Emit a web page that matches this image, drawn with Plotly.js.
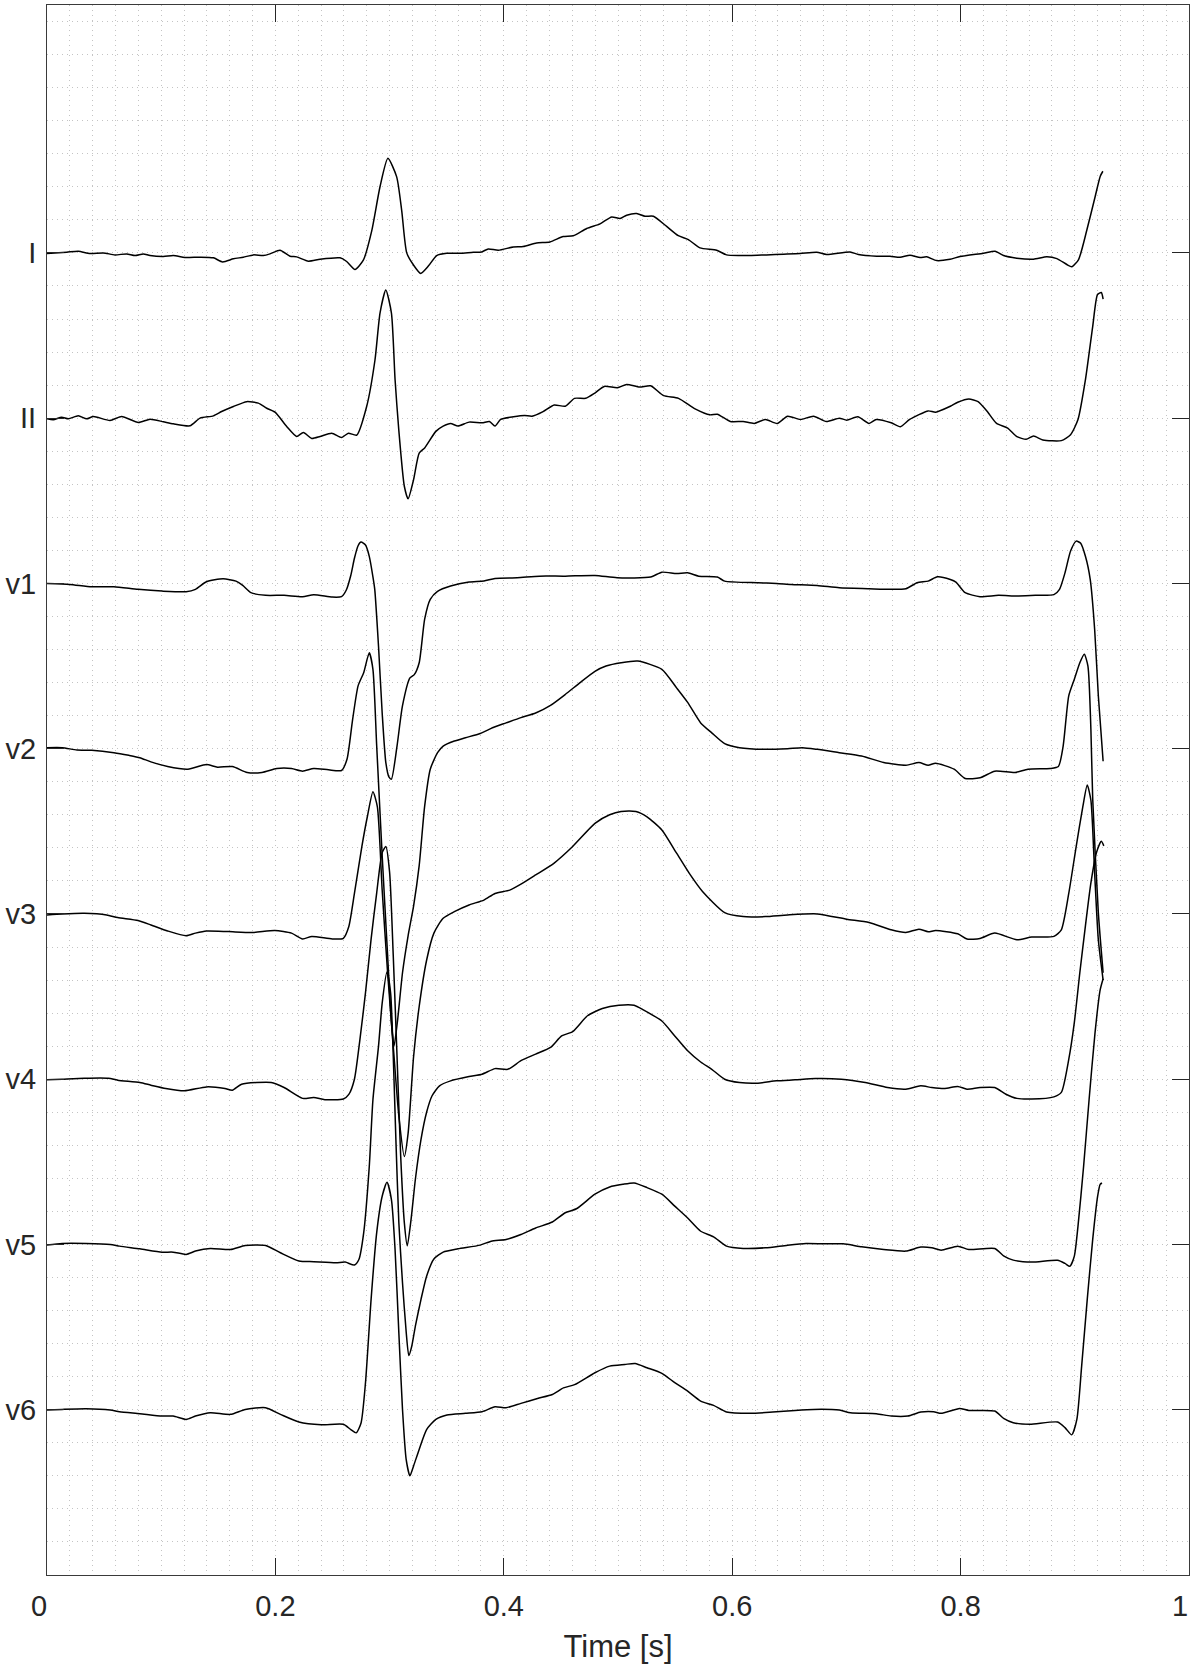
<!DOCTYPE html>
<html>
<head>
<meta charset="utf-8">
<script src="https://cdn.plot.ly/plotly-3.0.1.min.js"></script>
<style>
  html, body { margin: 0; padding: 0; background: #ffffff; }
  #chart { width: 1190px; height: 1670px; }
</style>
</head>
<body>
<div id="chart"></div>
<script>
// ---- data: [time (s), amplitude (mV)] ----
const leadNames = ["I", "II", "v1", "v2", "v3", "v4", "v5", "v6"];
const leadOffsets = [17.5, 15, 12.5, 10, 7.5, 5, 2.5, 0];

const leadI = [[0,-0.01],[0.0172,0.01],[0.0274,0.025],[0.0377,-0.01],[0.0493,0],[0.0595,-0.03],[0.0698,-0.015],[0.0771,-0.04],[0.0844,-0.015],[0.0902,-0.04],[0.1019,-0.055],[0.1106,-0.04],[0.1208,-0.07],[0.134,-0.065],[0.1457,-0.075],[0.1538,-0.136],[0.1632,-0.09],[0.1719,-0.065],[0.1807,-0.03],[0.1894,-0.04],[0.1953,-0.015],[0.204,0.04],[0.2128,-0.05],[0.2186,-0.06],[0.2289,-0.126],[0.2391,-0.096],[0.2566,-0.075],[0.2624,-0.13],[0.2697,-0.25],[0.277,-0.11],[0.2843,0.33],[0.2916,1.0],[0.2985,1.43],[0.3062,1.15],[0.3106,0.64],[0.315,0],[0.3208,-0.18],[0.3272,-0.31],[0.3339,-0.20],[0.3412,-0.04],[0.35,-0.005],[0.3616,-0.005],[0.3733,0.01],[0.3806,0.015],[0.3864,0.06],[0.3952,0.04],[0.4083,0.09],[0.417,0.096],[0.4287,0.15],[0.4404,0.166],[0.452,0.247],[0.4608,0.26],[0.4726,0.37],[0.4843,0.44],[0.4945,0.544],[0.5018,0.52],[0.5076,0.57],[0.5163,0.595],[0.5236,0.554],[0.531,0.554],[0.5426,0.40],[0.5528,0.26],[0.5616,0.20],[0.5718,0.076],[0.5864,0.04],[0.595,-0.03],[0.6068,-0.04],[0.6155,-0.04],[0.63,-0.03],[0.645,-0.02],[0.6594,-0.01],[0.674,0.01],[0.6827,-0.025],[0.7032,0.015],[0.7105,-0.025],[0.7265,-0.05],[0.7382,-0.05],[0.747,-0.065],[0.7557,-0.035],[0.7645,-0.07],[0.7703,-0.06],[0.7791,-0.116],[0.7908,-0.096],[0.7995,-0.055],[0.82,-0.005],[0.8302,0.025],[0.8376,-0.04],[0.8492,-0.08],[0.8638,-0.096],[0.8755,-0.06],[0.8843,-0.086],[0.893,-0.176],[0.8974,-0.21],[0.9033,-0.10],[0.9106,0.35],[0.9179,0.857],[0.9223,1.16],[0.9246,1.235]];

const leadII = [[0,-0.01],[0.0055,-0.025],[0.0128,0.015],[0.0187,-0.01],[0.0274,0.035],[0.0347,-0.01],[0.0406,0.025],[0.0552,-0.035],[0.0654,0.025],[0.08,-0.066],[0.0902,-0.015],[0.1019,-0.055],[0.1106,-0.086],[0.1252,-0.116],[0.134,0],[0.1457,0.035],[0.1529,0.10],[0.1632,0.176],[0.1748,0.25],[0.185,0.227],[0.1924,0.15],[0.1997,0.09],[0.2099,-0.126],[0.2186,-0.277],[0.2245,-0.217],[0.2318,-0.307],[0.2391,-0.277],[0.2493,-0.227],[0.258,-0.292],[0.2639,-0.227],[0.2712,-0.257],[0.2799,0.176],[0.2872,0.88],[0.2916,1.59],[0.2967,1.94],[0.3016,1.59],[0.3048,0.58],[0.308,-0.17],[0.3129,-1.03],[0.3162,-1.22],[0.321,-0.93],[0.3259,-0.53],[0.3307,-0.45],[0.3405,-0.20],[0.3469,-0.12],[0.3534,-0.08],[0.3599,-0.12],[0.3696,-0.06],[0.381,-0.07],[0.3874,-0.05],[0.3923,-0.12],[0.3972,-0.02],[0.4085,0.02],[0.4182,0.04],[0.4247,0.03],[0.4344,0.10],[0.4441,0.20],[0.4538,0.18],[0.4619,0.30],[0.4717,0.30],[0.4797,0.38],[0.4879,0.48],[0.4995,0.46],[0.5076,0.51],[0.5189,0.47],[0.5286,0.49],[0.54,0.34],[0.553,0.30],[0.5675,0.14],[0.5805,0.05],[0.587,0.06],[0.5983,-0.05],[0.6096,-0.05],[0.6193,-0.08],[0.629,-0.02],[0.6394,-0.08],[0.6485,0.03],[0.6598,-0.02],[0.6712,0.03],[0.6825,-0.05],[0.6938,0],[0.7003,-0.03],[0.71,0.02],[0.7198,-0.08],[0.7262,-0.02],[0.7392,-0.07],[0.7473,-0.13],[0.7554,-0.02],[0.7716,0.11],[0.7781,0.09],[0.791,0.18],[0.7975,0.24],[0.8072,0.29],[0.8153,0.25],[0.8234,0.10],[0.8315,-0.08],[0.8412,-0.15],[0.8493,-0.28],[0.8574,-0.32],[0.8639,-0.27],[0.872,-0.33],[0.8882,-0.34],[0.8963,-0.25],[0.9028,-0.02],[0.9093,0.58],[0.9157,1.39],[0.9199,1.87],[0.9232,1.90],[0.9248,1.80]];

const leadV1 = [[0,0],[0.0198,-0.015],[0.0392,-0.05],[0.0586,-0.05],[0.0797,-0.09],[0.1007,-0.116],[0.1218,-0.126],[0.13,-0.09],[0.1396,0.025],[0.1542,0.07],[0.1655,0.035],[0.1714,-0.03],[0.1785,-0.14],[0.1914,-0.18],[0.2076,-0.18],[0.2238,-0.20],[0.2336,-0.17],[0.2498,-0.207],[0.2579,-0.20],[0.2621,-0.10],[0.266,0.12],[0.2692,0.38],[0.2724,0.57],[0.275,0.625],[0.2789,0.58],[0.2822,0.41],[0.2854,0.10],[0.287,-0.09],[0.2903,-0.95],[0.2935,-1.96],[0.2967,-2.71],[0.2995,-2.93],[0.3016,-2.96],[0.3065,-2.46],[0.3113,-1.85],[0.3178,-1.43],[0.3216,-1.38],[0.3259,-1.20],[0.3307,-0.54],[0.3356,-0.24],[0.342,-0.12],[0.3534,-0.04],[0.3696,0.02],[0.3826,0.035],[0.3923,0.076],[0.4117,0.086],[0.4312,0.11],[0.4538,0.11],[0.4798,0.12],[0.4992,0.086],[0.5286,0.096],[0.5384,0.17],[0.5513,0.15],[0.561,0.16],[0.5707,0.11],[0.587,0.096],[0.5934,0.035],[0.6226,0.01],[0.6388,0],[0.6517,-0.015],[0.6744,-0.03],[0.6938,-0.066],[0.7198,-0.08],[0.7392,-0.09],[0.7521,-0.08],[0.7619,0.01],[0.7716,0.035],[0.7797,0.10],[0.791,0.06],[0.7959,0.02],[0.804,-0.14],[0.817,-0.20],[0.8331,-0.18],[0.8493,-0.19],[0.8655,-0.18],[0.8817,-0.17],[0.8866,-0.09],[0.8914,0.16],[0.8963,0.49],[0.9012,0.64],[0.905,0.61],[0.9093,0.41],[0.9135,0.06],[0.9174,-0.70],[0.9206,-1.70],[0.9248,-2.69]];

const leadV2 = [[0,0.015],[0.0133,0.015],[0.0262,-0.02],[0.0392,-0.025],[0.0586,-0.06],[0.0716,-0.10],[0.0813,-0.136],[0.091,-0.20],[0.1056,-0.27],[0.1234,-0.31],[0.1396,-0.24],[0.1493,-0.28],[0.1623,-0.27],[0.1753,-0.36],[0.1882,-0.36],[0.2012,-0.30],[0.2141,-0.30],[0.2238,-0.34],[0.2336,-0.30],[0.2465,-0.32],[0.2579,-0.33],[0.2627,-0.16],[0.2676,0.44],[0.2724,0.95],[0.2773,1.15],[0.2822,1.45],[0.2854,1.20],[0.2887,0.04],[0.2935,-1.62],[0.2983,-3.14],[0.3016,-4.14],[0.3039,-4.50],[0.3071,-4.09],[0.3113,-3.39],[0.3162,-2.83],[0.321,-2.38],[0.3259,-1.77],[0.3307,-0.87],[0.3356,-0.31],[0.342,-0.06],[0.3469,0.04],[0.3567,0.116],[0.3664,0.166],[0.3793,0.23],[0.3907,0.32],[0.402,0.39],[0.415,0.47],[0.4279,0.54],[0.4409,0.655],[0.4538,0.82],[0.4668,1.0],[0.4798,1.17],[0.4895,1.25],[0.5027,1.30],[0.5173,1.325],[0.5384,1.20],[0.5513,0.92],[0.561,0.70],[0.5724,0.39],[0.5821,0.24],[0.5934,0.076],[0.6064,0.015],[0.629,-0.01],[0.6485,0],[0.6614,0.015],[0.6744,-0.01],[0.6938,-0.06],[0.7133,-0.11],[0.7327,-0.21],[0.7522,-0.25],[0.7635,-0.21],[0.7716,-0.25],[0.7781,-0.22],[0.7943,-0.31],[0.804,-0.45],[0.817,-0.44],[0.8299,-0.34],[0.8477,-0.36],[0.859,-0.31],[0.8785,-0.30],[0.8856,-0.27],[0.8898,0.04],[0.8947,0.80],[0.8996,1.05],[0.9044,1.30],[0.9083,1.43],[0.9115,1.25],[0.9141,0.29],[0.9157,-0.77],[0.9206,-2.48],[0.9248,-3.39]];

const leadV3 = [[0,-0.015],[0.0133,0],[0.0327,0.01],[0.0522,-0.015],[0.0619,-0.055],[0.0797,-0.10],[0.091,-0.166],[0.1056,-0.257],[0.1218,-0.33],[0.13,-0.29],[0.1396,-0.257],[0.159,-0.267],[0.1801,-0.28],[0.1995,-0.25],[0.2141,-0.29],[0.2238,-0.378],[0.2319,-0.34],[0.2498,-0.378],[0.2595,-0.368],[0.2643,-0.19],[0.2692,0.31],[0.2757,1.02],[0.2805,1.47],[0.2854,1.85],[0.2893,1.62],[0.2935,0.36],[0.2983,-0.90],[0.3032,-2.0],[0.3081,-3.06],[0.3129,-3.67],[0.3162,-3.32],[0.321,-2.16],[0.3259,-1.40],[0.3324,-0.70],[0.3388,-0.29],[0.3469,-0.066],[0.3567,0.035],[0.3696,0.136],[0.3826,0.21],[0.3923,0.31],[0.4052,0.36],[0.415,0.45],[0.4279,0.59],[0.4441,0.77],[0.4603,1.02],[0.4798,1.37],[0.4927,1.50],[0.5027,1.55],[0.5157,1.55],[0.5254,1.47],[0.5384,1.27],[0.5513,0.92],[0.5626,0.61],[0.574,0.34],[0.5934,0.02],[0.6096,-0.04],[0.629,-0.04],[0.6485,-0.015],[0.6744,0],[0.7003,-0.08],[0.7198,-0.13],[0.7392,-0.24],[0.7521,-0.28],[0.7635,-0.23],[0.7716,-0.27],[0.7781,-0.25],[0.7975,-0.30],[0.8056,-0.38],[0.8169,-0.37],[0.8299,-0.29],[0.8493,-0.39],[0.8623,-0.35],[0.8817,-0.34],[0.8882,-0.24],[0.8947,0.31],[0.9012,1.02],[0.907,1.62],[0.9109,1.95],[0.9141,1.72],[0.9174,0.61],[0.9206,-0.39],[0.9248,-1.0]];

const leadV4 = [[0,-0.01],[0.0133,0],[0.0327,0.015],[0.0538,0.015],[0.0619,-0.015],[0.0813,-0.05],[0.091,-0.09],[0.104,-0.14],[0.1202,-0.176],[0.1396,-0.116],[0.1558,-0.14],[0.1623,-0.166],[0.1704,-0.076],[0.1963,-0.05],[0.2076,-0.126],[0.2238,-0.29],[0.2336,-0.277],[0.2433,-0.31],[0.2595,-0.30],[0.2643,-0.23],[0.2692,0],[0.274,0.60],[0.2789,1.31],[0.2838,2.12],[0.2887,2.82],[0.2935,3.43],[0.2967,3.52],[0.3,3.13],[0.3032,1.87],[0.3065,0.35],[0.3097,-1.16],[0.3129,-2.17],[0.3155,-2.52],[0.3188,-2.12],[0.3226,-1.51],[0.3275,-0.91],[0.3324,-0.50],[0.3372,-0.25],[0.3437,-0.10],[0.3534,-0.025],[0.3696,0.04],[0.381,0.076],[0.3923,0.16],[0.4036,0.15],[0.415,0.28],[0.4279,0.38],[0.4409,0.48],[0.4506,0.655],[0.4603,0.72],[0.4733,0.96],[0.4863,1.07],[0.5008,1.12],[0.5141,1.12],[0.5222,1.05],[0.5384,0.88],[0.5497,0.655],[0.561,0.43],[0.5724,0.26],[0.5821,0.15],[0.5934,0],[0.6064,-0.05],[0.6226,-0.06],[0.6388,-0.025],[0.655,-0.01],[0.6728,0.01],[0.6955,0],[0.7165,-0.05],[0.736,-0.126],[0.7521,-0.15],[0.7651,-0.10],[0.7748,-0.126],[0.7862,-0.14],[0.7975,-0.11],[0.8056,-0.15],[0.817,-0.126],[0.8299,-0.126],[0.8397,-0.227],[0.8493,-0.29],[0.8623,-0.30],[0.8817,-0.267],[0.8882,-0.20],[0.8947,0.30],[0.8996,0.86],[0.9044,1.61],[0.9093,2.32],[0.9141,2.97],[0.919,3.43],[0.9232,3.60],[0.9254,3.53]];

const leadV5 = [[0,-0.01],[0.0133,0.015],[0.0343,0.015],[0.0554,0],[0.0635,-0.025],[0.0813,-0.066],[0.1007,-0.116],[0.1105,-0.116],[0.1218,-0.15],[0.13,-0.10],[0.143,-0.06],[0.1607,-0.076],[0.1736,-0.015],[0.1914,-0.015],[0.2044,-0.126],[0.2206,-0.25],[0.2336,-0.26],[0.253,-0.277],[0.2611,-0.267],[0.2692,-0.31],[0.2731,-0.227],[0.2773,0.176],[0.2822,1.18],[0.2854,2.19],[0.2903,3.0],[0.2935,3.65],[0.2977,4.12],[0.3009,3.80],[0.3032,2.85],[0.3055,1.59],[0.3081,0.33],[0.3113,-0.58],[0.3146,-1.34],[0.3168,-1.68],[0.3194,-1.54],[0.3226,-1.23],[0.3275,-0.83],[0.3324,-0.48],[0.3388,-0.22],[0.3469,-0.116],[0.3599,-0.066],[0.3793,-0.01],[0.389,0.05],[0.402,0.076],[0.415,0.15],[0.4279,0.25],[0.4425,0.34],[0.4538,0.48],[0.4636,0.54],[0.4798,0.76],[0.4927,0.87],[0.5043,0.91],[0.5141,0.93],[0.5254,0.86],[0.5384,0.76],[0.5497,0.58],[0.561,0.40],[0.5724,0.20],[0.5837,0.116],[0.595,-0.025],[0.6096,-0.06],[0.629,-0.05],[0.6485,-0.01],[0.6647,0.015],[0.6809,0.01],[0.6971,0.01],[0.7133,-0.035],[0.7327,-0.076],[0.7521,-0.10],[0.7651,-0.04],[0.7748,-0.05],[0.7829,-0.086],[0.7975,-0.025],[0.8072,-0.076],[0.8299,-0.06],[0.838,-0.176],[0.8461,-0.237],[0.8623,-0.267],[0.8849,-0.24],[0.8914,-0.287],[0.8957,-0.33],[0.8996,-0.176],[0.9028,0.277],[0.9077,1.18],[0.9125,2.19],[0.9177,3.2],[0.9222,3.85],[0.9248,4.02]];

const leadV6 = [[0,-0.005],[0.0133,0.005],[0.0343,0.015],[0.0554,-0.005],[0.0635,-0.03],[0.0813,-0.06],[0.1007,-0.096],[0.1105,-0.096],[0.1218,-0.146],[0.13,-0.096],[0.143,-0.045],[0.1607,-0.07],[0.1736,0.005],[0.1914,0.03],[0.2044,-0.07],[0.2206,-0.186],[0.2401,-0.227],[0.2595,-0.22],[0.266,-0.30],[0.2708,-0.35],[0.275,-0.20],[0.2789,0.41],[0.2838,1.67],[0.2887,2.68],[0.2935,3.23],[0.2977,3.44],[0.3016,3.18],[0.3048,2.42],[0.3081,1.16],[0.3113,0.005],[0.3145,-0.75],[0.3178,-1.0],[0.321,-0.85],[0.3259,-0.60],[0.3324,-0.30],[0.3405,-0.146],[0.3502,-0.08],[0.3664,-0.055],[0.381,-0.03],[0.3923,0.045],[0.402,0.03],[0.415,0.096],[0.4295,0.17],[0.4425,0.23],[0.4522,0.33],[0.462,0.38],[0.4798,0.56],[0.4927,0.66],[0.506,0.685],[0.515,0.70],[0.5254,0.635],[0.5384,0.55],[0.5497,0.41],[0.561,0.28],[0.5724,0.13],[0.5837,0.066],[0.595,-0.035],[0.6161,-0.055],[0.6355,-0.035],[0.655,-0.01],[0.6712,0.005],[0.6938,-0.005],[0.7036,-0.045],[0.7262,-0.06],[0.7392,-0.096],[0.7538,-0.096],[0.7651,-0.035],[0.7764,-0.03],[0.7829,-0.055],[0.7991,0.02],[0.8072,-0.01],[0.8299,-0.02],[0.838,-0.136],[0.8461,-0.197],[0.8607,-0.22],[0.8849,-0.186],[0.8914,-0.27],[0.8973,-0.38],[0.9018,-0.146],[0.906,0.66],[0.9109,1.67],[0.9157,2.58],[0.92,3.23],[0.9222,3.41],[0.9238,3.43]];

const xTickVals = [0, 0.2, 0.4, 0.6, 0.8, 1];
const xTickText = ["", "0.2", "0.4", "0.6", "0.8", ""];
const xAxisTitle = "Time [s]";

// ---- build traces ----
const leads = [leadI, leadII, leadV1, leadV2, leadV3, leadV4, leadV5, leadV6];
const traces = leads.map((pts, i) => ({
  type: "scatter",
  mode: "lines",
  x: pts.map(p => p[0]),
  y: pts.map(p => p[1] + leadOffsets[i]),
  line: { color: "#000000", width: 1.5, shape: "spline", smoothing: 0.6 },
  hoverinfo: "skip",
  showlegend: false
}));

const FONT = "Liberation Sans, Arial, Helvetica, sans-serif";
const TXT = "#262626";
const GRID = "#c4c4c4";
const TICKSIZE = 29;

const layout = {
  width: 1190,
  height: 1670,
  margin: { l: 47, r: 1, t: 5, b: 95 },
  paper_bgcolor: "#ffffff",
  plot_bgcolor: "#ffffff",
  showlegend: false,
  font: { family: FONT, color: TXT, size: TICKSIZE },
  xaxis: {
    range: [0, 1],
    tickmode: "array",
    tickvals: xTickVals,
    ticktext: xTickText,
    ticks: "inside",
    ticklen: 17,
    tickwidth: 1,
    tickcolor: TXT,
    showline: true,
    linecolor: "#3a3a3a",
    linewidth: 1,
    mirror: "ticks",
    zeroline: false,
    showgrid: true,
    gridcolor: GRID,
    gridwidth: 1,
    griddash: "1px,4px",
    minor: { tickmode: "linear", tick0: 0, dtick: 0.02, showgrid: true, gridcolor: GRID, gridwidth: 1, griddash: "1px,4px", ticks: "" },
    tickfont: { family: FONT, size: TICKSIZE, color: TXT },
    ticklabelstandoff: 5,
    title: { text: xAxisTitle, font: { family: FONT, size: 31, color: TXT }, standoff: 14 }
  },
  yaxis: {
    range: [-2.5, 21.25],
    tickmode: "array",
    tickvals: leadOffsets,
    ticktext: leadNames,
    ticks: "inside",
    ticklen: 17,
    tickwidth: 1,
    tickcolor: TXT,
    showline: true,
    linecolor: "#3a3a3a",
    linewidth: 1,
    mirror: "ticks",
    zeroline: false,
    showgrid: true,
    gridcolor: GRID,
    gridwidth: 1,
    griddash: "1px,4px",
    minor: { tickmode: "linear", tick0: 0, dtick: 0.5, showgrid: true, gridcolor: GRID, gridwidth: 1, griddash: "1px,4px", ticks: "" },
    tickfont: { family: FONT, size: TICKSIZE, color: TXT },
    ticklabelstandoff: 4
  },
  annotations: [
    { text: "0", x: 0, xref: "x", y: 0, yref: "paper", xanchor: "center", yanchor: "top", yshift: -13, xshift: -8, showarrow: false, font: { family: FONT, size: TICKSIZE, color: TXT } },
    { text: "1", x: 1, xref: "x", y: 0, yref: "paper", xanchor: "center", yanchor: "top", yshift: -13, xshift: -9, showarrow: false, font: { family: FONT, size: TICKSIZE, color: TXT } }
  ]
};

Plotly.newPlot("chart", traces, layout, { staticPlot: true, displayModeBar: false });
</script>
</body>
</html>
